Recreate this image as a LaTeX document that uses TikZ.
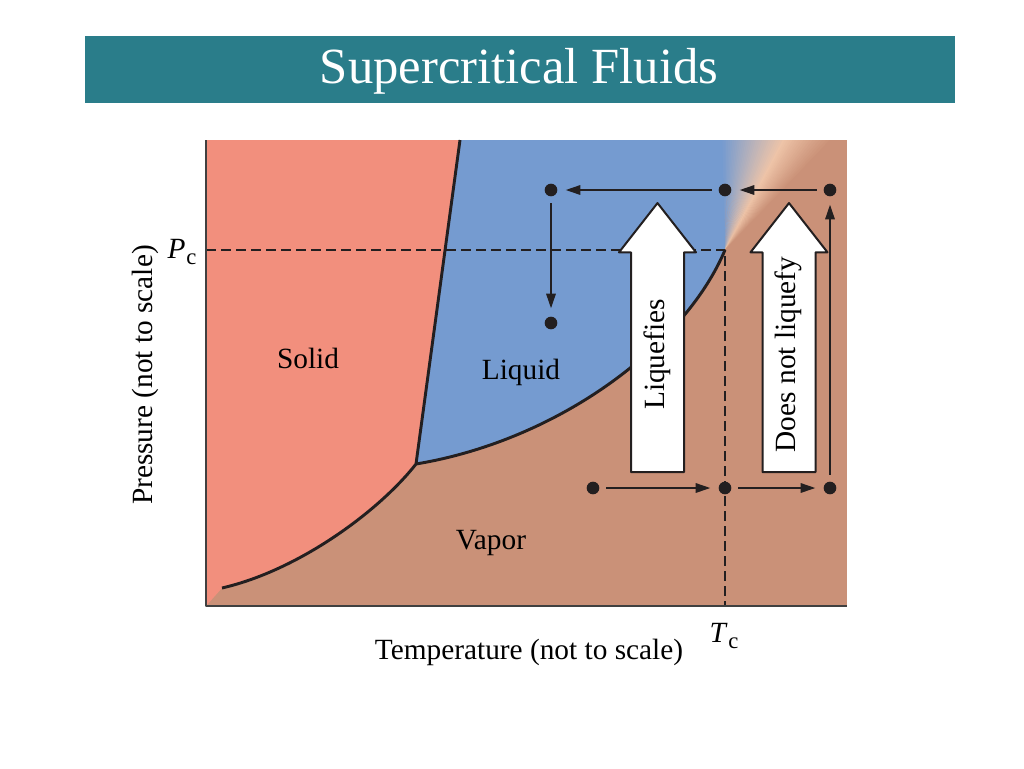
\documentclass[tikz,border=0pt]{standalone}
\usepackage{fontspec}
\setmainfont{Liberation Serif}
\usetikzlibrary{arrows.meta,shapes.arrows}
\definecolor{titlebar}{RGB}{42,125,138}
\definecolor{solidc}{RGB}{242,143,125}
\definecolor{liquidc}{RGB}{117,155,208}
\definecolor{vaporc}{RGB}{202,145,120}
\definecolor{glowc}{RGB}{238,196,168}
\definecolor{inkc}{RGB}{35,31,32}
\newcommand{\lblfont}{\fontsize{22}{24}\selectfont}
\tikzset{
  dot/.style={circle,fill=inkc,inner sep=0pt,minimum size=9.5pt},
  path arrow/.style={-{Triangle[length=11pt,width=7pt]},line width=1.5pt,draw=inkc,shorten <=5pt,shorten >=6pt},
  bigarrow/.style={single arrow,draw=inkc,line width=1.5pt,fill=white,rotate=90,
    single arrow head extend=9pt,single arrow tip angle=76,minimum height=201.75pt,
    inner xsep=0pt,inner ysep=0pt,text height=24pt,text depth=14.25pt},
  phase line/.style={line width=2.2pt,draw=inkc},
  crit line/.style={dash pattern=on 7.5pt off 3.75pt,line width=1.3pt,draw=inkc}
}
\begin{document}
\begin{tikzpicture}[x=0.75pt,y=-0.75pt,line join=round,font=\lblfont]
\useasboundingbox (0,0) rectangle (1024,768);
% title bar
\fill[titlebar] (85,36) rectangle (955,103);
\node[text=white,font=\fontsize{38}{40}\selectfont] (title) at (519,71) {Supercritical Fluids};
% phase regions
\path (206,140) coordinate (NW) (847,606) coordinate (SE) (206,606) coordinate (O)
  (416,464) coordinate (tp) (725,250) coordinate (cp) (460,140) coordinate (melt) (222,588) coordinate (sub);
\fill[vaporc] (NW) rectangle (SE);
\fill[solidc] (NW) -- (melt) -- (tp) .. controls (380,510) and (300,570) .. (sub) -- (O) -- cycle;
\fill[liquidc] (melt) -- (tp) .. controls (560,440) and (685,345) .. (cp) -- (724,140) -- cycle;
% fading above the critical point
\begin{scope}
  \clip (NW) rectangle (SE);
  \foreach \i in {0,...,46}{
    \pgfmathtruncatemacro{\a}{92-\i}
    \ifnum\i<30
      \pgfmathtruncatemacro{\p}{\i*100/30}\colorlet{fanc}{glowc!\p!liquidc}
    \else
      \pgfmathtruncatemacro{\p}{(\i-30)*100/16}\colorlet{fanc}{vaporc!\p!glowc}
    \fi
    \fill[fanc] (cp) -- +({-\a-0.4}:200) -- +({-\a+1}:200) -- cycle;
  }
\end{scope}
% phase boundaries
\draw[phase line] (sub) .. controls (300,570) and (380,510) .. (tp) -- (melt);
\draw[phase line] (tp) .. controls (560,440) and (685,345) .. (cp);
\draw[crit line] (206,250) -- (cp) -- (725,606);
\draw[line width=1.5pt,draw=black!75] (NW) -- (O) -- (SE);
% labels
\node (pc) at (182,252) {\textit{P}\kern.5pt\raisebox{-.45ex}{\fontsize{17}{17}\selectfont c}};
\node (tc) at (724,636) {\textit{T}\kern.5pt\raisebox{-.45ex}{\fontsize{17}{17}\selectfont c}};
\node[rotate=90] (ylab) at (145,375) {Pressure (not to scale)};
\node (xlab) at (529,652) {Temperature (not to scale)};
\node (solid) at (308,358) {Solid};
\node (liquid) at (521,372) {Liquid};
\node (vapor) at (491,543) {Vapor};
% block arrows
\node[bigarrow] (liq) at (657.5,354.5) {Liquefies};
\node[bigarrow] (noliq) at (789,354.5) {Does not liquefy};
% state points
\foreach \n/\x/\y in {A/551/190,B/725/190,C/830/190,D/551/323,E/593/488,F/725/488,G/830/488}
  \node[dot] (\n) at (\x,\y) {};
\foreach \s/\t in {C/B,B/A,A/D,E/F,F/G,G/C}
  \draw[path arrow] (\s) -- (\t);
\end{tikzpicture}
\end{document}
